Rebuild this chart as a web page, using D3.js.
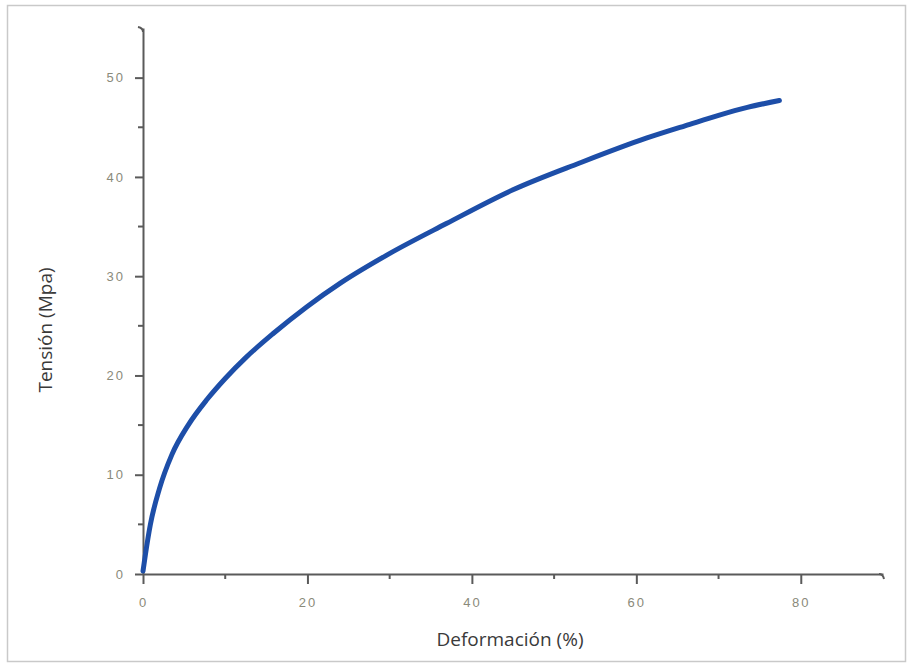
<!DOCTYPE html>
<html>
<head>
<meta charset="utf-8">
<script src="https://cdn.jsdelivr.net/npm/d3@7"></script>
<style>
  body { margin: 0; background: #fff; }
  .tick text { font-family: "Liberation Sans", Arial, sans-serif; font-size: 13px; fill: #8a8a7a; letter-spacing: 2px; }
  .titulo { font-family: "Open Sans", "Noto Sans", sans-serif; font-size: 19px; fill: #3a3a3a; }
</style>
</head>
<body>
<svg id="chart" width="912" height="670"></svg>
<script>
const deformacion = [0, 0.3, 0.9, 2, 3.5, 5.5, 7.8, 10, 12.5, 15.8, 19.9, 24, 29.6, 36.9, 45, 53.1, 61.2, 66.5, 70, 73.5, 77.4];
const tension     = [0.3, 2.0, 5.0, 8.6, 12.0, 15.0, 17.6, 19.7, 21.8, 24.2, 26.9, 29.3, 32.1, 35.3, 38.7, 41.4, 43.9, 45.3, 46.2, 47.0, 47.7];
const xTicks = [0, 20, 40, 60, 80];
const yTicks = [0, 10, 20, 30, 40, 50];
const xMinor = [10, 30, 50, 70];
const yMinor = [5, 15, 25, 35, 45];

const svg = d3.select("#chart");

// Marco exterior
svg.append("rect")
    .attr("x", 7.5).attr("y", 5.5)
    .attr("width", 898).attr("height", 656)
    .attr("fill", "none")
    .attr("stroke", "#c9c9c9")
    .attr("stroke-width", 1.5);

const x = d3.scaleLinear().domain([0, 90]).range([143, 883]);
const y = d3.scaleLinear().domain([0, 55]).range([574, 28]);

// Eje X
const gx = svg.append("g").attr("transform", "translate(0,574)");
gx.call(d3.axisBottom(x).tickValues(xTicks).tickSize(10).tickPadding(14).tickSizeOuter(0));
gx.append("g").selectAll("line").data(xMinor).join("line")
    .attr("x1", d => x(d)).attr("x2", d => x(d))
    .attr("y1", 0).attr("y2", 5);

// Eje Y
const gy = svg.append("g").attr("transform", "translate(143,0)");
gy.call(d3.axisLeft(y).tickValues(yTicks).tickSize(8).tickPadding(10).tickSizeOuter(0));
gy.append("g").selectAll("line").data(yMinor).join("line")
    .attr("x1", 0).attr("x2", -5)
    .attr("y1", d => y(d)).attr("y2", d => y(d));

svg.selectAll(".domain, .tick line, g line")
    .attr("stroke", "#5a5a5a")
    .attr("stroke-width", 2);

// pequeños ganchos en los extremos de los ejes
svg.append("path")
    .attr("d", `M${x(0)},${y(55) + 4} Q${x(0)},${y(55)} ${x(0) - 5},${y(55) - 1}`)
    .attr("fill", "none").attr("stroke", "#5a5a5a").attr("stroke-width", 2);
svg.append("path")
    .attr("d", `M${x(90) - 4},${y(0)} Q${x(90)},${y(0)} ${x(90) + 1},${y(0) + 5}`)
    .attr("fill", "none").attr("stroke", "#5a5a5a").attr("stroke-width", 2);

// Curva
const pts = deformacion.map((d, i) => [d, tension[i]]);
svg.append("path")
    .datum(pts)
    .attr("d", d3.line().x(d => x(d[0])).y(d => y(d[1])).curve(d3.curveMonotoneX))
    .attr("fill", "none")
    .attr("stroke", "#1d4ea8")
    .attr("stroke-width", 5)
    .attr("stroke-linecap", "round");

// Títulos de ejes
svg.append("text")
    .attr("class", "titulo")
    .attr("x", 510).attr("y", 646)
    .attr("text-anchor", "middle")
    .text("Deformación (%)");

svg.append("text")
    .attr("class", "titulo")
    .attr("transform", "translate(52,330) rotate(-90)")
    .attr("text-anchor", "middle")
    .text("Tensión (Mpa)");
</script>
</body>
</html>
